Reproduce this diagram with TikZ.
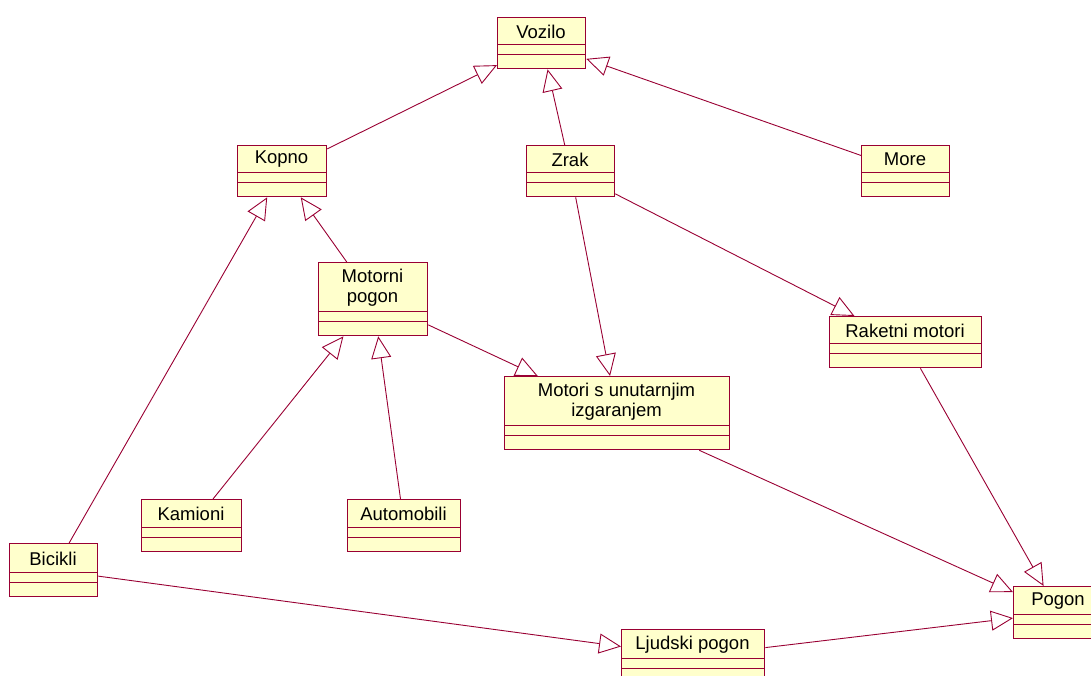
\documentclass[tikz,border=0pt]{standalone}
\usepackage{fontspec}
\setmainfont{Liberation Sans}
\usetikzlibrary{arrows.meta}
\definecolor{roseline}{HTML}{990033}
\definecolor{rosefill}{HTML}{FFFFCC}

\begin{document}
\begin{tikzpicture}[x=1pt,y=-1pt,
  classbox/.style={draw=roseline,fill=rosefill,line width=1.3pt,inner sep=0pt},
  classname/.style={align=center,inner sep=0pt,font=\fontsize{18.5}{20}\selectfont},
  gen/.style={draw=roseline,line width=0.9pt,-{Triangle[open,length=22pt,width=20pt]}}]
\clip (0,0) rectangle (1091,675);

\foreach \n/\x/\y/\w/\h/\t in {
  vozilo/497/17/88/27/Vozilo,
  kopno/237/145/89/27/Kopno,
  zrak/526/145/88/27/Zrak,
  more/861/145/88/27/More,
  motorni/318/262/109/49/{Motorni\\pogon},
  raketni/829/316/152/27/Raketni motori,
  msu/504/376/225/49/{Motori s unutarnjim\\izgaranjem},
  kamioni/141/499/100/28/Kamioni,
  automobili/347/499/113/28/Automobili,
  bicikli/9/543/88/29/Bicikli,
  ljudski/621/629/143/29/Ljudski pogon,
  pogon/1013/586/90/28/Pogon}
{
\node[classbox,anchor=north west,minimum width=\w pt,minimum height={(\h+24)*1pt}] (\n) at (\x,\y) {};
\node[classname] (\n-t) at (\x+\w/2,\y+\h/2+1) {\t};
\draw[roseline,line width=1pt] (\x,\y+\h) -- ++(\w,0) (\x,\y+\h+10) -- ++(\w,0);
}

% generalizations
\draw[gen] (kopno) -- (vozilo);
\draw[gen] (zrak) -- (vozilo);
\draw[gen] (more) -- (vozilo);
\draw[gen] (motorni) -- (kopno);
\draw[gen] (bicikli) -- (kopno);
\draw[gen] (kamioni) -- (motorni);
\draw[gen] (automobili) -- (motorni);
\draw[gen] (motorni) -- (msu);
\draw[gen] (zrak) -- (msu);
\draw[gen] (zrak) -- (raketni);
\draw[gen] (raketni) -- (pogon);
\draw[gen] (msu) -- (pogon);
\draw[gen] (ljudski) -- (pogon);
\draw[gen] (bicikli) -- (ljudski);
\end{tikzpicture}
\end{document}
